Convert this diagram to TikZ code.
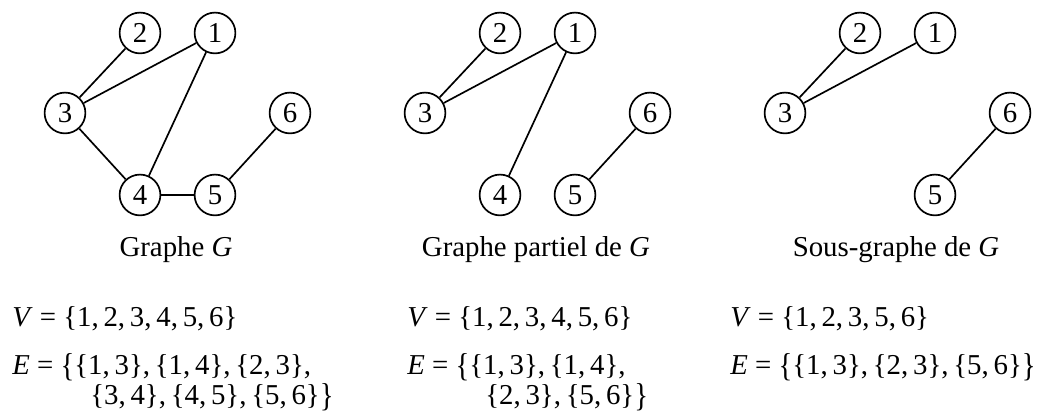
\documentclass[tikz,border=0pt]{standalone}
\usepackage{fontspec}
\setmainfont{Liberation Serif}
\usepackage{graphicx}

\newcommand{\bigbr}[1]{\raisebox{-0.06em}{\scalebox{1}[1.15]{#1}}}

\tikzset{
  vertex/.style={circle, draw, line width=1.2pt, minimum size=1.02cm, inner sep=0pt},
  edge/.style={line width=1.2pt},
  caption/.style={anchor=base},
  settext/.style={anchor=base west, inner sep=0pt}
}

\begin{document}
\begin{tikzpicture}[font=\fontsize{20.5}{24}\selectfont]

\useasboundingbox (0,0) rectangle (26.4,10.375);

% graphe G
\foreach \n/\x/\y in {1/5.375/9.55, 2/3.5/9.55, 3/1.625/7.55, 4/3.5/5.5, 5/5.375/5.5, 6/7.25/7.55}
    \node[vertex] (a\n) at (\x,\y) {\n};
\foreach \u/\v in {2/3, 1/3, 1/4, 3/4, 4/5, 5/6}
    \draw[edge] (a\u) -- (a\v);

% graphe partiel
\foreach \n/\x/\y in {1/5.375/9.55, 2/3.5/9.55, 3/1.625/7.55, 4/3.5/5.5, 5/5.375/5.5, 6/7.25/7.55}
    \node[vertex] (b\n) at (\x+9,\y) {\n};
\foreach \u/\v in {2/3, 1/3, 1/4, 5/6}
    \draw[edge] (b\u) -- (b\v);

% sous-graphe
\foreach \n/\x/\y in {1/5.375/9.55, 2/3.5/9.55, 3/1.625/7.55, 5/5.375/5.5, 6/7.25/7.55}
    \node[vertex] (c\n) at (\x+18,\y) {\n};
\foreach \u/\v in {2/3, 1/3, 5/6}
    \draw[edge] (c\u) -- (c\v);

\node[caption] (capA) at (4.4,3.95) {Graphe \textit{G}};
\node[caption] (capB) at (13.4,3.95) {Graphe partiel de \textit{G}};
\node[caption] (capC) at (22.4,3.95) {Sous-graphe de \textit{G}};

\node[settext] (vA) at (0.3,2.22) {\textit{V} = \{1,\,2,\,3,\,4,\,5,\,6\}};
\node[settext] (eA) at (0.3,1.0) {\textit{E} = \bigbr{\{}\{1,\,3\},\,\{1,\,4\},\,\{2,\,3\},};
\node[settext] (eA2) at ([xshift=1.95cm,yshift=-0.75cm]eA.base west) {\{3,\,4\},\,\{4,\,5\},\,\{5,\,6\}\bigbr{\}}};

\node[settext] (vB) at (10.175,2.22) {\textit{V} = \{1,\,2,\,3,\,4,\,5,\,6\}};
\node[settext] (eB) at (10.175,1.0) {\textit{E} = \bigbr{\{}\{1,\,3\},\,\{1,\,4\},};
\node[settext] (eB2) at ([xshift=1.95cm,yshift=-0.75cm]eB.base west) {\{2,\,3\},\,\{5,\,6\}\bigbr{\}}};

\node[settext] (vC) at (18.25,2.22) {\textit{V} = \{1,\,2,\,3,\,5,\,6\}};
\node[settext] (eC) at (18.25,1.0) {\textit{E} = \bigbr{\{}\{1,\,3\},\,\{2,\,3\},\,\{5,\,6\}\bigbr{\}}};

\end{tikzpicture}
\end{document}
